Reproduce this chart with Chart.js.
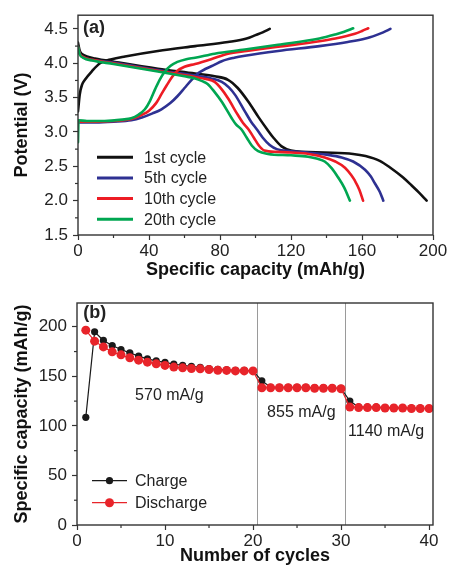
<!DOCTYPE html>
<html><head><meta charset="utf-8">
<script src="https://cdn.jsdelivr.net/npm/chart.js@4.4.1/dist/chart.umd.min.js"></script>
<style>
html,body{margin:0;padding:0;background:#fff;}
#wrap{position:relative;width:450px;height:569px;overflow:hidden;background:#fff;}
canvas{position:absolute;left:0;}
#c1{top:0;} #c2{top:285px;}
</style></head><body>
<div id="wrap"><canvas id="c1" width="450" height="285"></canvas><canvas id="c2" width="450" height="284"></canvas></div>
<script>
// ---------- Panel (a): voltage profiles [capacity mAh/g, potential V] ----------
const cycle1Charge = [[0,3.30],[1,3.55],[2.3,3.69],[3.9,3.76],[7.7,3.88],[12.4,4.00],[19,4.06],[26.5,4.10],[45,4.18],[66,4.25],[84.5,4.31],[95,4.36],[100,4.41],[104,4.45],[108,4.50]];
const cycle1Discharge = [[0,4.30],[1,4.18],[2,4.14],[5,4.10],[9.6,4.07],[20.8,4.02],[45,3.92],[66,3.85],[77,3.81],[84.5,3.76],[90,3.64],[96,3.44],[101.6,3.22],[106.5,3.04],[110,2.92],[114.7,2.79],[120,2.73],[139,2.70],[155,2.68],[162,2.65],[170,2.58],[176,2.48],[183,2.34],[188,2.22],[192,2.12],[196.4,2.00]];
const cycle5Charge = [[0,3.14],[10,3.14],[20,3.15],[30,3.17],[36,3.21],[42,3.27],[47,3.33],[52,3.42],[56,3.52],[60,3.64],[64,3.76],[68,3.86],[72,3.92],[77,3.98],[81,4.03],[88,4.08],[94,4.11],[112.7,4.18],[136,4.25],[152,4.31],[162,4.36],[168,4.41],[172,4.45],[176,4.50]];
const cycle5Discharge = [[0,4.24],[1,4.14],[3,4.09],[8,4.05],[20,4.01],[45,3.90],[66,3.82],[75,3.78],[81,3.73],[85,3.65],[88.5,3.54],[94,3.30],[97.5,3.15],[100.7,3.04],[104,2.92],[108,2.81],[112,2.75],[120,2.72],[129.6,2.70],[140,2.67],[148.5,2.63],[155,2.57],[161.7,2.45],[165,2.35],[167.3,2.25],[170,2.13],[172,2.00]];
const cycle10Charge = [[0,3.15],[10,3.15],[20,3.16],[30,3.19],[36,3.25],[40,3.31],[44,3.42],[47,3.55],[50,3.68],[53,3.80],[56,3.89],[60,3.95],[66,3.99],[75,4.06],[84.5,4.14],[95,4.18],[112.7,4.24],[136,4.32],[145,4.36],[156,4.43],[160,4.47],[163.5,4.51]];
const cycle10Discharge = [[0,4.24],[1,4.14],[3,4.09],[8,4.05],[20,4.00],[45,3.89],[66,3.80],[72,3.77],[77,3.73],[81,3.62],[84.5,3.49],[90,3.25],[93,3.13],[96,3.04],[99,2.92],[102,2.80],[105,2.73],[112,2.71],[120,2.70],[130,2.68],[139,2.63],[145,2.57],[150.4,2.48],[154,2.37],[156,2.29],[158.5,2.16],[160.6,2.00]];
const cycle20Charge = [[0,2.85],[0.3,3.17],[5,3.16],[15,3.16],[25,3.18],[30,3.20],[34,3.25],[37.7,3.33],[40.5,3.45],[43.4,3.62],[46,3.76],[49,3.88],[52,3.96],[56,4.02],[61,4.06],[66,4.08],[77,4.14],[94,4.20],[112.7,4.27],[136,4.36],[145,4.42],[150,4.46],[155,4.51]];
const cycle20Discharge = [[0,4.24],[1,4.13],[3,4.08],[8,4.04],[20,3.99],[45,3.88],[60,3.81],[66,3.78],[70,3.74],[73,3.70],[77,3.58],[81,3.44],[86.6,3.20],[89,3.11],[92,3.04],[95,2.92],[98,2.80],[101.5,2.72],[107,2.68],[120,2.66],[129.6,2.64],[135,2.61],[139,2.57],[143,2.47],[146.5,2.34],[150,2.19],[153.2,2.00]];
const cycleLabels = ['1st cycle','5th cycle','10th cycle','20th cycle'];
const xTicksA = [0,40,80,120,160,200];
const xMinorA = [20,60,100,140,180];
const yTicksA = [1.5,2.0,2.5,3.0,3.5,4.0,4.5];
const yMinorA = [1.75,2.25,2.75,3.25,3.75,4.25];

// ---------- Panel (b): cycling ----------
const cycles = [1,2,3,4,5,6,7,8,9,10,11,12,13,14,15,16,17,18,19,20,21,22,23,24,25,26,27,28,29,30,31,32,33,34,35,36,37,38,39,40];
const chargeCap = [108.6,194.9,186.2,181.1,177.1,173.7,170.4,167.7,165.6,164,162.3,161,160,159,157.9,157,156.5,156,156,155.5,145.5,139,139,139,139,139,138.5,138.5,138.5,138,125,119,119,119,118.5,118.5,118,118,118,117.5];
const dischargeCap = [196.6,185.5,179.7,174.7,171.7,168.7,166.3,164.3,162.6,161,159.3,158.6,157.9,157.6,156.9,156.2,156,155.5,155.5,155.5,138.5,138.5,138.5,138.5,138.5,138.5,138,138,138,137.5,119,118.5,118.5,118.5,118,118,118,117.5,117.5,117.5];
const rateBoundaries = [20.5,30.5];
const rateLabels = ['570 mA/g','855 mA/g','1140 mA/g'];
const rateLabelPos = [[6.6,131],[21.6,113],[30.8,94]];
const xTicksB = [0,10,20,30,40];
const xMinorB = [5,15,25,35];
const yTicksB = [0,50,100,150,200];
const yMinorB = [25,75,125,175];

const FONT = "'Liberation Sans', Arial, Helvetica, sans-serif";
Chart.defaults.font.family = FONT;
Chart.defaults.color = '#222';

const COLORS = ['#111111','#2e3192','#ed1c24','#00a651'];

function lineDs(pts, color) {
  return {data: pts.map(p => ({x:p[0], y:p[1]})), borderColor: color, backgroundColor: color,
    borderWidth: 2.6, pointRadius: 0, cubicInterpolationMode: 'monotone', fill: false, borderCapStyle:'round'};
}

const decor = {
  id: 'decor',
  beforeDatasetsDraw(chart, args, o) {
    const {ctx, chartArea: a, scales} = chart;
    if (o.vlines) {
      ctx.save(); ctx.strokeStyle = '#9a9a9a'; ctx.lineWidth = 1;
      o.vlines.forEach(v => { const px = Math.round(scales.x.getPixelForValue(v)) + 0.5;
        ctx.beginPath(); ctx.moveTo(px, a.top); ctx.lineTo(px, a.bottom); ctx.stroke(); });
      ctx.restore();
    }
  },
  afterDraw(chart, args, o) {
    const {ctx, chartArea: a, scales} = chart;
    ctx.save();
    ctx.strokeStyle = '#333'; ctx.lineWidth = 1.4;
    ctx.strokeRect(a.left, a.top, a.right - a.left, a.bottom - a.top);
    ctx.lineWidth = 1.2;
    o.minorX.forEach(v => { const px = scales.x.getPixelForValue(v);
      ctx.beginPath(); ctx.moveTo(px, a.bottom); ctx.lineTo(px, a.bottom + 3); ctx.stroke(); });
    o.minorY.forEach(v => { const py = scales.y.getPixelForValue(v);
      ctx.beginPath(); ctx.moveTo(a.left, py); ctx.lineTo(a.left - 3, py); ctx.stroke(); });
    // texts
    ctx.textBaseline = 'middle'; ctx.textAlign = 'left';
    (o.texts || []).forEach(t => {
      ctx.font = (t.bold ? 'bold ' : '') + t.size + 'px ' + FONT;
      ctx.fillStyle = '#222';
      ctx.fillText(t.text, scales.x.getPixelForValue(t.x), scales.y.getPixelForValue(t.y));
    });
    // legend
    const L = o.legend;
    if (L) {
      ctx.font = L.size + 'px ' + FONT;
      L.items.forEach((it, i) => {
        const y = a.top + L.top + i * L.gap;
        ctx.strokeStyle = it.color; ctx.lineWidth = it.lw;
        ctx.beginPath(); ctx.moveTo(a.left + L.x0, y); ctx.lineTo(a.left + L.x1, y); ctx.stroke();
        if (it.r) { ctx.fillStyle = it.color; ctx.beginPath();
          ctx.arc(a.left + (L.x0 + L.x1) / 2, y, it.r, 0, Math.PI * 2); ctx.fill(); }
        ctx.fillStyle = '#222';
        ctx.fillText(it.text, a.left + L.tx, y + 1);
      });
    }
    ctx.restore();
  }
};

function axis(ticks, min, max, fmt, size, title, horiz) {
  return {
    type: 'linear', min, max,
    afterBuildTicks: s => { s.ticks = ticks.map(v => ({value: v})); },
    afterFit: s => { if (horiz) s.height = size; else s.width = size; },
    grid: {drawOnChartArea: false, drawTicks: true, tickLength: 5, tickColor: '#333', tickWidth: 1.2},
    border: {display: false},
    ticks: {font: {size: 17}, color: '#222', padding: horiz ? 1 : 5, maxRotation: 0, autoSkip: false,
      callback: v => fmt(v)},
    title: {display: true, text: title, color: '#111', font: {size: 18, weight: 'bold'},
      padding: horiz ? {top: 0, bottom: title.startsWith('Number') ? 2 : 4} : {top: 11, bottom: 0}}
  };
}

const curves = [
  [cycle20Discharge, 3], [cycle20Charge, 3], [cycle10Discharge, 2], [cycle10Charge, 2],
  [cycle5Discharge, 1], [cycle5Charge, 1], [cycle1Discharge, 0], [cycle1Charge, 0]
];

new Chart(document.getElementById('c1'), {
  type: 'line',
  data: {datasets: curves.map(c => lineDs(c[0], COLORS[c[1]]))},
  options: {
    responsive: false, animation: false, devicePixelRatio: 1,
    layout: {padding: {top: 12, right: 17, left: 0, bottom: 0}},
    plugins: {legend: {display: false}, tooltip: {enabled: false},
      decor: {minorX: xMinorA, minorY: yMinorA,
        texts: [{text: '(a)', x: 2.8, y: 4.51, size: 18, bold: true}],
        legend: {size: 16, x0: 19, x1: 55, tx: 66, top: 142, gap: 20.7,
          items: cycleLabels.map((t, i) => ({text: t, color: COLORS[i], lw: 3}))}}},
    scales: {
      x: axis(xTicksA, 0, 200, v => String(v), 50, 'Specific capacity (mAh/g)', true),
      y: axis(yTicksA, 1.5, 4.7, v => v.toFixed(1), 78, 'Potential (V)', false)
    }
  },
  plugins: [decor]
});

new Chart(document.getElementById('c2'), {
  type: 'line',
  data: {datasets: [
    {data: cycles.map((c, i) => ({x: c, y: dischargeCap[i]})), borderColor: '#e8242a', backgroundColor: '#e8242a',
      borderWidth: 1.2, pointRadius: 4.5, pointBorderWidth: 0, tension: 0},
    {data: cycles.map((c, i) => ({x: c, y: chargeCap[i]})), borderColor: '#1a1a1a', backgroundColor: '#1a1a1a',
      borderWidth: 1.2, pointRadius: 3.6, pointBorderWidth: 0, tension: 0}
  ]},
  options: {
    responsive: false, animation: false, devicePixelRatio: 1,
    layout: {padding: {top: 18, right: 17, left: 0, bottom: 0}},
    plugins: {legend: {display: false}, tooltip: {enabled: false},
      decor: {minorX: xMinorB, minorY: yMinorB, vlines: rateBoundaries,
        texts: [{text: '(b)', x: 0.7, y: 213.7, size: 18, bold: true}].concat(
          rateLabels.map((t, i) => ({text: t, x: rateLabelPos[i][0], y: rateLabelPos[i][1], size: 16}))),
        legend: {size: 16, x0: 15, x1: 50, tx: 58, top: 177.7, gap: 22,
          items: [{text: 'Charge', color: '#1a1a1a', lw: 1.2, r: 3.6}, {text: 'Discharge', color: '#e8242a', lw: 1.2, r: 4.5}]}}},
    scales: {
      x: axis(xTicksB, 0, 40.45, v => String(v), 44, 'Number of cycles', true),
      y: axis(yTicksB, 0, 224, v => String(v), 77, 'Specific capacity (mAh/g)', false)
    }
  },
  plugins: [decor]
});
</script>
</body></html>
